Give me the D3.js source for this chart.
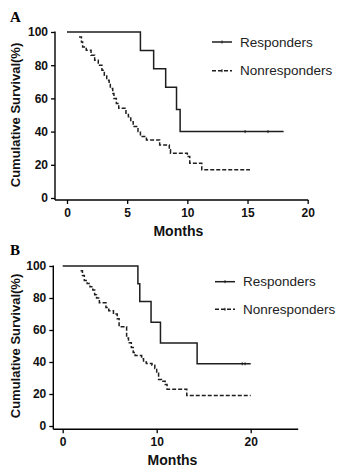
<!DOCTYPE html>
<html>
<head>
<meta charset="utf-8">
<script src="https://cdn.jsdelivr.net/npm/d3@7"></script>
<style>
  html, body { margin: 0; padding: 0; background: #fff; }
  svg { display: block; }
</style>
</head>
<body>
<svg id="chart" width="343" height="474"></svg>
<script>
// ---------- DATA ----------
// Panel A
const respA_time = [0, 6.1, 7.2, 8.2, 9.1, 9.4];
const respA_surv = [100, 88.9, 77.8, 66.7, 53.3, 40];
const respA_end = 18;
const respA_censor = [14.8, 16.7];

const nonA_time = [0, 1.0, 1.2, 1.3, 1.6, 2.0, 2.3, 2.6, 2.9, 3.1, 3.3, 3.5, 3.6, 3.8, 3.9, 4.1, 4.3, 4.9, 5.1, 5.3, 5.5, 5.9, 6.1, 6.6, 7.7, 8.5, 8.6, 10.0, 10.2, 11.2];
const nonA_surv = [100, 97, 94, 91, 89, 86, 83, 80, 77, 74, 71, 69, 66, 63, 60, 57, 54, 51, 49, 46, 43, 40, 37, 35, 32, 29, 27, 25, 21, 17];
const nonA_start = 1.0;
const nonA_end = 15.2;

// Panel B
const respB_time = [0, 8.0, 8.2, 9.4, 10.4, 14.3];
const respB_surv = [100, 88.9, 77.8, 64.8, 51.9, 38.9];
const respB_end = 20;
const respB_censor = [19.1, 19.4];

const nonB_time = [0, 1.9, 2.1, 2.3, 2.6, 2.9, 3.2, 3.4, 3.6, 3.9, 4.6, 4.9, 5.4, 5.8, 6.0, 6.8, 7.0, 7.3, 7.5, 7.7, 8.4, 8.6, 8.9, 9.5, 9.8, 10.0, 10.2, 10.5, 10.9, 11.1, 13.2];
const nonB_surv = [100, 97, 94, 91, 89, 87, 85, 82, 80, 77, 74, 72, 70, 67, 62, 55, 52, 49, 46, 44, 42, 40, 39, 38, 36, 33, 29, 28, 26, 23, 19];
const nonB_start = 1.9;
const nonB_end = 20;

const yTicks = [0, 20, 40, 60, 80, 100];
const xTicksA = [0, 5, 10, 15, 20];
const xTicksB = [0, 10, 20];
const legendLabels = ["Responders", "Nonresponders"];
const panelLabels = ["A", "B"];

// ---------- DRAW ----------
const svg = d3.select("#chart");
const lineColor = "#1e1e1e";
const sans = "Liberation Sans, Arial, sans-serif";

function panel(cfg) {
  const g = svg.append("g");
  const x = d3.scaleLinear().domain(cfg.xDomain).range([cfg.x0, cfg.x1]);
  const y = d3.scaleLinear().domain([0, 100]).range([cfg.y0, cfg.y100]);

  // y axis
  const ya = g.append("g").attr("transform", `translate(${cfg.axX},0)`)
    .call(d3.axisLeft(y).tickValues(yTicks).tickSize(4).tickPadding(3));
  ya.select(".domain").remove();
  ya.append("line").attr("x1", 0).attr("x2", 0).attr("y1", cfg.y100 - 0.5).attr("y2", cfg.axY)
    .attr("stroke", "#000").attr("stroke-width", 1.4);
  ya.selectAll(".tick line").attr("stroke", "#000").attr("stroke-width", 1.3);
  ya.selectAll(".tick text").attr("fill", "#111").style("font-family", sans)
    .style("font-size", "12px").style("font-weight", "bold");

  // x axis
  const xa = g.append("g").attr("transform", `translate(0,${cfg.axY})`)
    .call(d3.axisBottom(x).tickValues(cfg.xTicks).tickSize(4).tickPadding(4));
  xa.select(".domain").remove();
  xa.append("line").attr("x1", cfg.axX).attr("x2", cfg.x1 + 0.5).attr("y1", 0).attr("y2", 0)
    .attr("stroke", "#000").attr("stroke-width", 1.4);
  xa.selectAll(".tick line").attr("stroke", "#000").attr("stroke-width", 1.3);
  xa.selectAll(".tick text").attr("fill", "#111").style("font-family", sans)
    .style("font-size", "12px").style("font-weight", "bold");

  // axis titles
  g.append("text").attr("x", (cfg.axX + cfg.x1) / 2 - 3).attr("y", cfg.axY + 36)
    .attr("text-anchor", "middle").style("font-family", sans)
    .style("font-size", "14px").style("font-weight", "bold").attr("fill", "#111").text("Months");
  g.append("text").attr("transform", `translate(${cfg.titleX},${(cfg.y0 + cfg.y100) / 2}) rotate(-90)`)
    .attr("text-anchor", "middle").attr("dy", "0.35em").style("font-family", sans)
    .style("font-size", "13px").style("font-weight", "bold").attr("fill", "#111").text("Cumulative Survival(%)");

  // panel letter
  g.append("text").attr("x", 10).attr("y", cfg.letterY)
    .style("font-family", "Liberation Serif, Times New Roman, serif").style("font-size", "15px")
    .style("font-weight", "bold").attr("fill", "#000").text(cfg.letter);

  const stepLine = d3.line().x(d => x(d[0])).y(d => y(d[1])).curve(d3.curveStepAfter);

  // responders
  const rPts = cfg.rT.map((t, i) => [t, cfg.rS[i]]);
  rPts.push([cfg.rEnd, cfg.rS[cfg.rS.length - 1]]);
  g.append("path").attr("d", stepLine(rPts)).attr("fill", "none")
    .attr("stroke", lineColor).attr("stroke-width", 1.5);
  g.selectAll(".cens" + cfg.letter).data(cfg.rC).enter().append("line")
    .attr("x1", d => x(d)).attr("x2", d => x(d))
    .attr("y1", y(cfg.rS[cfg.rS.length - 1]) - 1.5).attr("y2", y(cfg.rS[cfg.rS.length - 1]) + 1.5)
    .attr("stroke", lineColor).attr("stroke-width", 1);

  // nonresponders (dashed, from first event onward)
  const nPts = cfg.nT.map((t, i) => [t, cfg.nS[i]]);
  nPts.push([cfg.nEnd, cfg.nS[cfg.nS.length - 1]]);
  const rest = nPts.filter(d => d[0] >= cfg.nStart);
  g.append("path").attr("d", stepLine(rest)).attr("fill", "none")
    .attr("stroke", lineColor).attr("stroke-width", 1.5).attr("stroke-dasharray", "4,2");

  // legend
  const lx0 = cfg.legX, lx1 = cfg.legX + 20;
  [0, 1].forEach(i => {
    const ly = cfg.legY + i * cfg.legGap;
    g.append("line").attr("x1", lx0).attr("x2", lx1).attr("y1", ly).attr("y2", ly)
      .attr("stroke", lineColor).attr("stroke-width", 1.5)
      .attr("stroke-dasharray", i === 1 ? "4,2" : null);
    g.append("line").attr("x1", (lx0 + lx1) / 2).attr("x2", (lx0 + lx1) / 2)
      .attr("y1", ly - 1.5).attr("y2", ly + 1.5).attr("stroke", lineColor).attr("stroke-width", 1);
    g.append("text").attr("x", lx1 + 8).attr("y", ly).attr("dy", "0.35em")
      .style("font-family", sans).style("font-size", "13.5px")
      .attr("fill", "#222").text(legendLabels[i]);
  });
}

panel({
  letter: panelLabels[0], letterY: 22,
  xDomain: [0, 20], x0: 67, x1: 307.7, y0: 198, y100: 32, axX: 55, axY: 200,
  xTicks: xTicksA, titleX: 15,
  rT: respA_time, rS: respA_surv, rEnd: respA_end, rC: respA_censor,
  nT: nonA_time, nS: nonA_surv, nStart: nonA_start, nEnd: nonA_end,
  legX: 212, legY: 42, legGap: 28.7
});

panel({
  letter: panelLabels[1], letterY: 255,
  xDomain: [0, 25], x0: 62.7, x1: 297.7, y0: 426, y100: 266, axX: 53.3, axY: 429.3,
  xTicks: xTicksB, titleX: 15,
  rT: respB_time, rS: respB_surv, rEnd: respB_end, rC: respB_censor,
  nT: nonB_time, nS: nonB_surv, nStart: nonB_start, nEnd: nonB_end,
  legX: 215, legY: 281.7, legGap: 27.6
});
</script>
</body>
</html>
